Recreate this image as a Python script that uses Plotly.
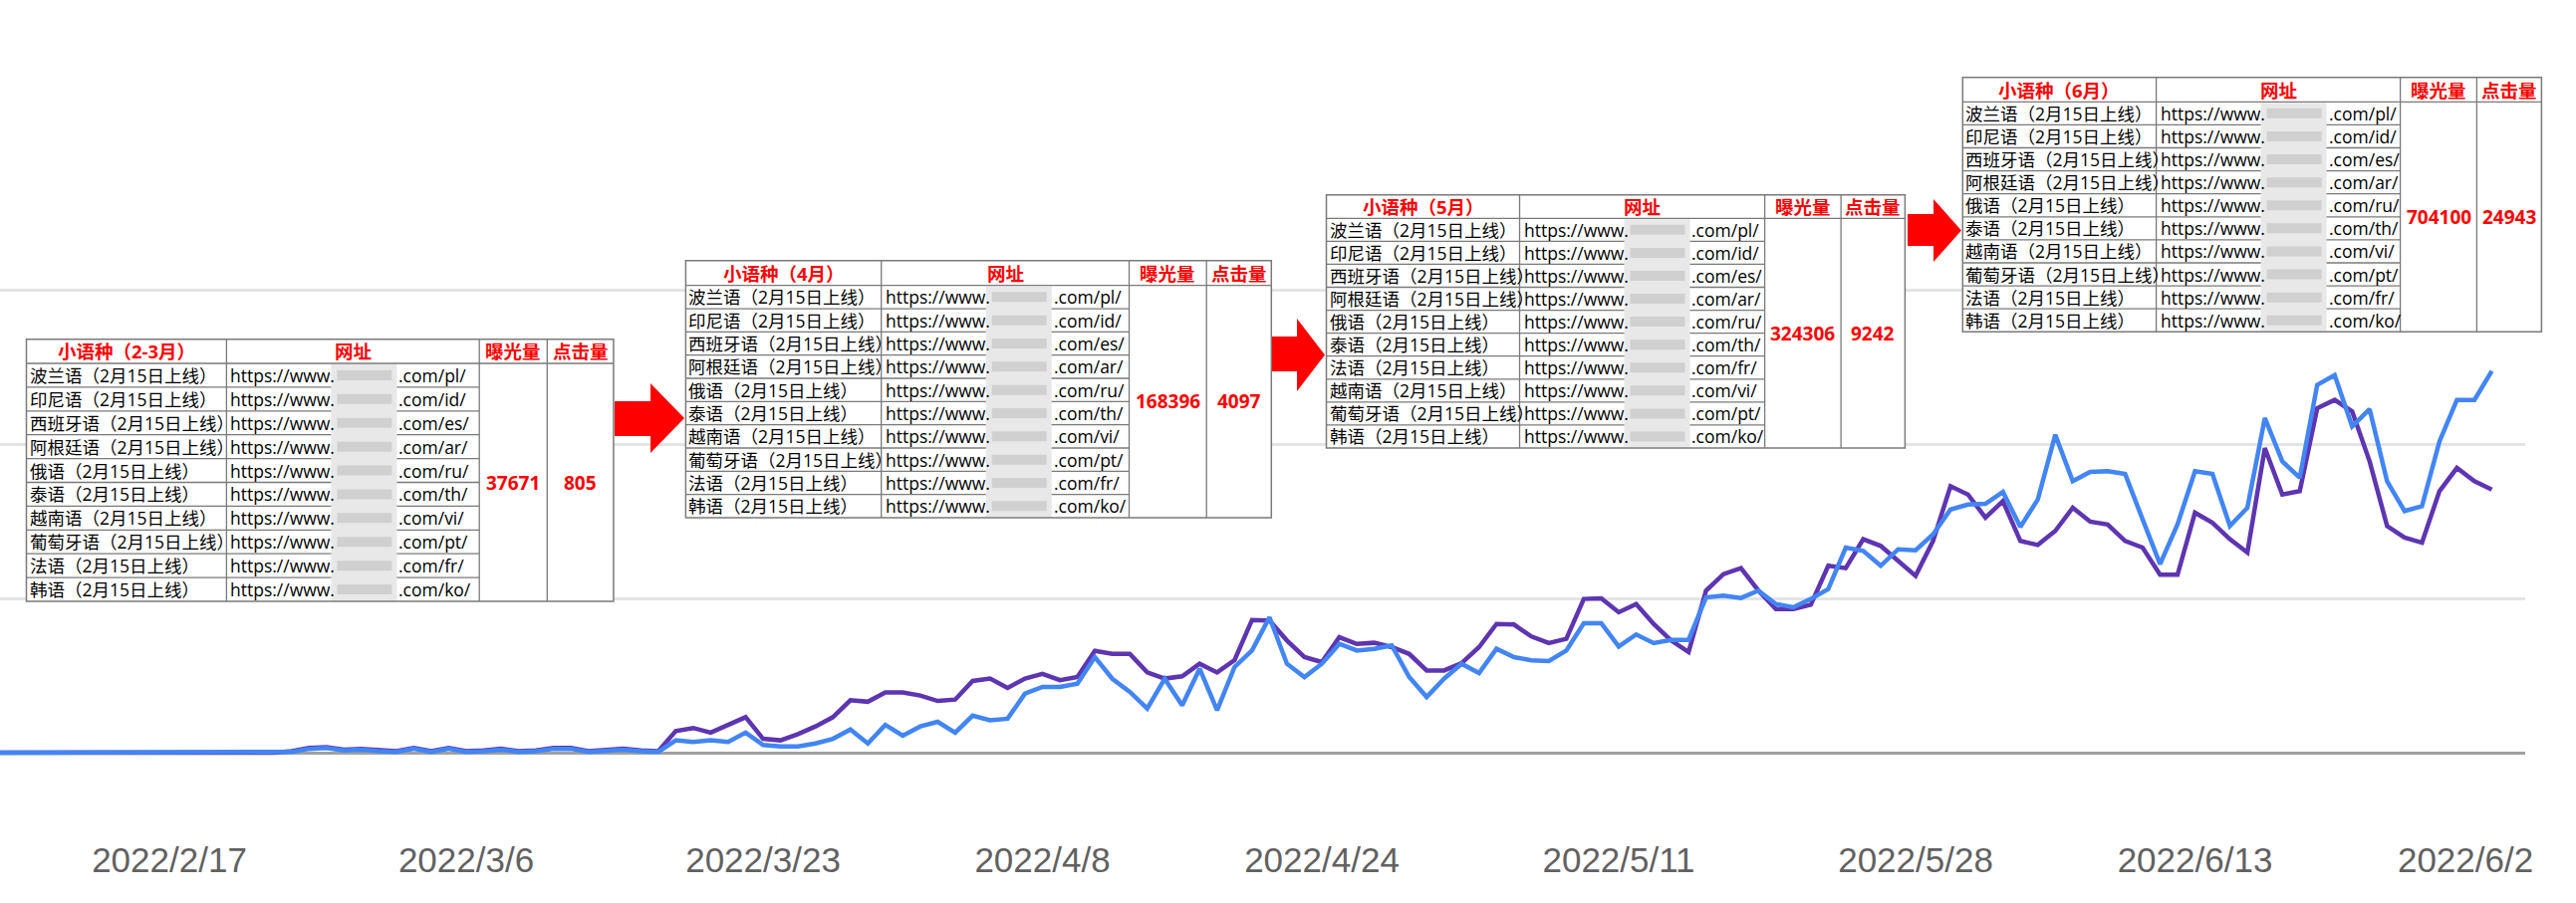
import pandas as pd
import plotly.graph_objects as go

# ---------------- data ----------------
dates = pd.date_range("2022-02-07", "2022-06-30", freq="D")

impressions_daily = [
    0, 0, 0, 0, 0, 0, 0, 0, 0, 0, 0, 0, 0, 0, 0, 0, 0,
    1, 3, 3.5, 2, 2.5, 1.5, 1, 3, 1, 3, 1, 1.5, 2.5, 1, 1.5, 3, 3, 1, 1.5, 2.5, 1.5, 1,
    14, 16, 13, 18, 23, 9, 8, 12, 17, 23, 34, 33, 39, 39, 37, 33.5, 34.4, 46.5, 48, 42,
    48, 51, 47, 49, 66, 64, 64, 52, 48, 49.5, 57.6, 52, 60, 86, 85.6, 72.7, 62, 58.7,
    74.8, 70.5, 71.2, 68.4, 64, 53.3, 53.3, 58, 68.4, 83.4, 83, 75.3, 71, 73.8, 99.6,
    100, 91, 96.3, 83.4, 72.7, 65.2, 105, 115.7, 119.6, 105, 93.1, 93.1, 95.9, 121.1,
    119.6, 138.3, 134, 124.3, 114.6, 137.2, 172.7, 167.3, 152.3, 163, 137.2, 134.6,
    143.7, 158.7, 149.7, 147.9, 137.2, 132.9, 115.3, 115.3, 155.5, 149, 138.3, 129.7,
    197.4, 167.3, 169.5, 223.2, 228.6, 221.1, 188.8, 146.9, 139.4, 136.1, 169.5,
    184.5, 175.9, 170.5,
]
clicks_daily = [
    0, 0, 0, 0, 0, 0, 0, 0, 0, 0, 0, 0, 0, 0, 0, 0, 0,
    0.5, 2.5, 3, 1.5, 2, 1, 0.5, 2.5, 0.5, 2.5, 0.5, 1, 2, 0.5, 1, 2.5, 2.5, 0.5, 1, 2, 1, 0.5,
    8, 7, 8, 7, 13, 5, 4, 4, 6, 9, 15, 6, 18, 11, 17, 20, 13, 24, 21, 22,
    38.3, 42.6, 42.6, 44.7, 61.9, 47.9, 39.4, 28.6, 47.9, 30.7, 54.4, 27.5, 55.5, 66.2,
    87.7, 57.6, 49, 57.6, 70.5, 66.2, 67.3, 69.5, 49, 36.1, 47.9, 57.6, 51.6, 67.3,
    61.9, 59.8, 59.4, 66.2, 83.9, 83.9, 68.8, 76.6, 71, 73.1, 73.1, 100.6, 101.7, 100.2,
    105, 96.3, 94.2, 99.6, 106, 132.9, 130.8, 121.1, 131.8, 131.2, 141.5, 157.6, 160.8,
    161.3, 169, 146.3, 164.1, 206, 175.9, 181.9, 182.4, 180.6, 151.2, 122.2, 147.9,
    182.4, 180.6, 146.9, 158.7, 216.8, 188.8, 178.1, 238.3, 244.7, 211.4, 222.6, 175.9,
    156.6, 159.8, 201.7, 228.6, 228.6, 247.3,
]

tick_dates = ["2022-02-17", "2022-03-06", "2022-03-23", "2022-04-08", "2022-04-24",
              "2022-05-11", "2022-05-28", "2022-06-13", "2022-06-28 11:45"]
tick_labels = ["2022/2/17", "2022/3/6", "2022/3/23", "2022/4/8", "2022/4/24",
               "2022/5/11", "2022/5/28", "2022/6/13", "2022/6/2"]

languages = ["波兰语", "印尼语", "西班牙语", "阿根廷语", "俄语", "泰语", "越南语", "葡萄牙语", "法语", "韩语"]
lang_codes = ["pl", "id", "es", "ar", "ru", "th", "vi", "pt", "fr", "ko"]
launch_note = "（2月15日上线）"
table_titles = ["小语种（2-3月）", "小语种（4月）", "小语种（5月）", "小语种（6月）"]
table_row_orders = [
    [0, 1, 2, 3, 4, 5, 6, 7, 8, 9],
    [0, 1, 2, 3, 4, 5, 6, 7, 8, 9],
    [0, 1, 2, 3, 4, 5, 8, 6, 7, 9],
    [0, 1, 2, 3, 4, 5, 6, 7, 8, 9],
]
header_labels = ["网址", "曝光量", "点击量"]
table_impressions = [37671, 168396, 324306, 704100]
table_clicks = [805, 4097, 9242, 24943]

# ---------------- layout geometry (pixels) ----------------
W, H = 2586, 907
ML, MR, MT, MB = 0, 51, 280, 67
PW, PH = W - ML - MR, H - MT - MB


def px(x):
    return (x - ML) / PW


def py(y):
    return (H - MB - y) / PH


# y mapping: value 0 at pixel 756, 1.55 px per unit
Y_ZERO_PX, PX_PER_UNIT = 756, 1.55
y_range = [(Y_ZERO_PX - (H - MB)) / PX_PER_UNIT, (Y_ZERO_PX - MT) / PX_PER_UNIT]

table_geoms = [
    dict(cols=[26.5, 227.4, 481.2, 549.3, 615.9], top=340.7, hb=365.0, bottom=604.0),
    dict(cols=[688.4, 884.7, 1133.5, 1211.2, 1276.3], top=261.7, hb=286.7, bottom=520.0),
    dict(cols=[1331.5, 1525.5, 1771.6, 1848.1, 1912.4], top=195.7, hb=219.3, bottom=450.0),
    dict(cols=[1970.3, 2164.6, 2409.6, 2486.4, 2551.4], top=77.7, hb=102.3, bottom=333.3),
]
arrow_geoms = [
    dict(x0=617, xm=653, x1=687, by0=403, by1=438, hy0=385, hy1=455),
    dict(x0=1277, xm=1302, x1=1330, by0=338, by1=373, hy0=320, hy1=393),
    dict(x0=1915, xm=1941, x1=1969, by0=215, by1=247, hy0=200, hy1=263),
]

PURPLE = "#5e35b1"
BLUE = "#4285f4"
RED = "#ff0000"
GRID_LINE = "#7a7a7a"
TFONT = "Open Sans, Noto Sans CJK SC, sans-serif"
TSIZE = 17.5

fig = go.Figure()
fig.add_trace(go.Scatter(x=dates, y=impressions_daily, mode="lines",
                         line=dict(color=PURPLE, width=4.5), hoverinfo="skip", name="曝光"))
fig.add_trace(go.Scatter(x=dates, y=clicks_daily, mode="lines",
                         line=dict(color=BLUE, width=4.5), hoverinfo="skip", name="点击"))

shapes = []
annotations = []


def rect(x0, y0, x1, y1, fill=None, line=None, lw=0):
    shapes.append(dict(type="rect", xref="paper", yref="paper",
                       x0=px(x0), x1=px(x1), y0=py(y1), y1=py(y0),
                       fillcolor=fill if fill else "rgba(0,0,0,0)",
                       line=dict(color=line if line else "rgba(0,0,0,0)", width=lw),
                       layer="above"))


def hline(x0, x1, y, color=GRID_LINE, w=1.3):
    shapes.append(dict(type="line", xref="paper", yref="paper",
                       x0=px(x0), x1=px(x1), y0=py(y), y1=py(y),
                       line=dict(color=color, width=w), layer="above"))


def vline(x, y0, y1, color=GRID_LINE, w=1.3):
    shapes.append(dict(type="line", xref="paper", yref="paper",
                       x0=px(x), x1=px(x), y0=py(y0), y1=py(y1),
                       line=dict(color=color, width=w), layer="above"))


def text(x, y, s, anchor="left", color="#000000", size=TSIZE):
    annotations.append(dict(xref="paper", yref="paper", x=px(x), y=py(y), text=s,
                            showarrow=False, xanchor=anchor, yanchor="middle",
                            font=dict(family=TFONT, size=size, color=color)))


for t, g in enumerate(table_geoms):
    c = g["cols"]
    top, hb, bottom = g["top"], g["hb"], g["bottom"]
    rh = (bottom - hb) / 10
    # background
    rect(c[0], top, c[-1], bottom, fill="#ffffff")
    # row lines (first two columns only; value columns are merged)
    for r in range(1, 10):
        hline(c[0], c[2], hb + r * rh)
    # blurred band in the URL column
    bx0, bx1 = c[1] + 105, c[1] + 171
    rect(bx0, hb + 1, bx1, bottom - 1, fill="#e8e8e8")
    for r in range(10):
        yc = hb + (r + 0.5) * rh
        rect(bx0 + 6, yc - 5, bx1 - 5, yc + 5, fill="#d0d0d0")
    # outer border, header line, vertical lines
    rect(c[0], top, c[-1], bottom, line=GRID_LINE, lw=1.5)
    hline(c[0], c[-1], hb)
    for xc in c[1:-1]:
        vline(xc, top, bottom)
    # header
    ymid = (top + hb) / 2
    text((c[0] + c[1]) / 2, ymid, "<b>" + table_titles[t] + "</b>", "center", RED, 18.5)
    for k, lab in enumerate(header_labels):
        text((c[k + 1] + c[k + 2]) / 2, ymid, "<b>" + lab + "</b>", "center", RED, 18.5)
    # rows
    for r, li in enumerate(table_row_orders[t]):
        yc = hb + (r + 0.5) * rh
        text(c[0] + 1, yc, languages[li] + launch_note)
        text(c[1] + 2, yc, "https://www.")
        text(bx1 + 0, yc, ".com/" + lang_codes[li] + "/")
    # merged values
    yv = (hb + bottom) / 2
    text((c[2] + c[3]) / 2, yv, "<b>%d</b>" % table_impressions[t], "center", RED, 19)
    text((c[3] + c[4]) / 2, yv, "<b>%d</b>" % table_clicks[t], "center", RED, 19)

for a in arrow_geoms:
    ym = (a["hy0"] + a["hy1"]) / 2
    pts = [(a["x0"], a["by0"]), (a["xm"], a["by0"]), (a["xm"], a["hy0"]), (a["x1"], ym),
           (a["xm"], a["hy1"]), (a["xm"], a["by1"]), (a["x0"], a["by1"])]
    path = "M " + " L ".join("%.6f,%.6f" % (px(x), py(y)) for x, y in pts) + " Z"
    shapes.append(dict(type="path", xref="paper", yref="paper", path=path,
                       fillcolor=RED, line=dict(width=0, color=RED), layer="above"))

fig.update_layout(
    width=W, height=H, autosize=False,
    margin=dict(l=ML, r=MR, t=MT, b=MB, pad=0),
    paper_bgcolor="#ffffff", plot_bgcolor="#ffffff",
    showlegend=False,
    shapes=shapes, annotations=annotations,
    xaxis=dict(type="date", range=["2022-02-07 07:15", "2022-07-01 21:50"],
               tickvals=tick_dates, ticktext=tick_labels, showgrid=False,
               zeroline=False, showline=False, ticks="", automargin=False,
               tickfont=dict(family="Liberation Sans, Arial, sans-serif", size=35, color="#616161")),
    yaxis=dict(range=y_range, tickvals=[0, 100, 200, 300], showticklabels=False,
               showgrid=True, gridcolor="#e4e4e4", gridwidth=2.5,
               zeroline=True, zerolinecolor="#a0a0a0", zerolinewidth=3, automargin=False),
)

fig.write_html("out.html", config={"displayModeBar": False},
               post_script="document.body.style.margin='0';document.body.style.overflow='hidden';")
